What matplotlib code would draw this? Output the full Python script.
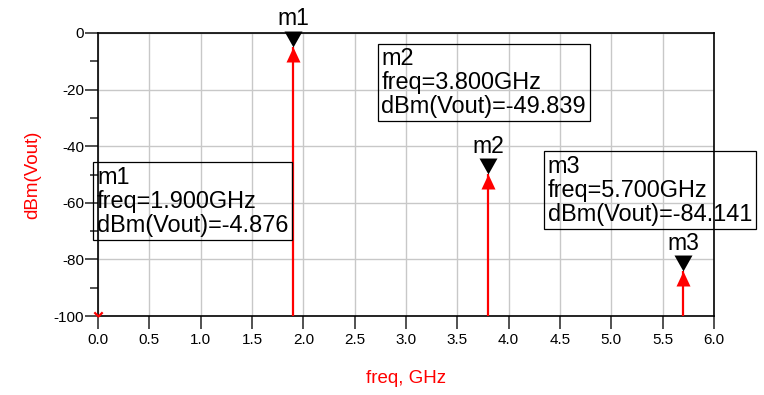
import numpy as np
import matplotlib
matplotlib.use("Agg")
import matplotlib.pyplot as plt
from matplotlib.path import Path

plt.rcParams['font.family'] = ['Liberation Sans', 'DejaVu Sans']
plt.rcParams['axes.unicode_minus'] = False

# harmonic spectrum
freq_ghz = [1.9, 3.8, 5.7]
dbm_vout = [-4.876, -49.839, -84.141]
marker_names = ['m1', 'm2', 'm3']
# the trace sample at DC sits at the bottom of the scale
dc_freq = 0.0
dc_level = -100

# where each marker readout box sits (data coords, top-left of text)
box_pos = [(-0.01, -47.0), (2.76, -5.0), (4.38, -43.1)]

x_ticks = np.arange(0, 6.01, 0.5)
y_ticks = [0, -20, -40, -60, -80, -100]
y_minor = [-10, -30, -50, -70, -90]

fig = plt.figure(figsize=(7.64, 3.95), dpi=100)
ax = fig.add_axes([98 / 764, 79 / 395, 616 / 764, 283 / 395])

ax.set_xlim(0, 6)
ax.set_ylim(-100, 0)
ax.set_xticks(x_ticks)
ax.set_xticklabels([f"{v:.1f}" for v in x_ticks])
ax.set_yticks(y_ticks)
ax.set_yticks(y_minor, minor=True)
ax.grid(True, which='major', color='#c8c8c8', linewidth=1.0)
ax.set_axisbelow(True)
for s in ax.spines.values():
    s.set_color('black')
    s.set_linewidth(1.2)
ax.tick_params(axis='both', which='major', direction='out', length=9.5, width=1.2,
               labelsize=11, pad=3, color='#333333')
ax.tick_params(axis='y', which='major', pad=0.5)
ax.tick_params(axis='y', which='minor', direction='out', length=6, width=1.2, color='#333333')

ax.set_xlabel('freq, GHz', color='red', fontsize=13.5, labelpad=16)
ax.set_ylabel('dBm(Vout)', color='red', fontsize=13.5, labelpad=9)

# spectral lines
ax.vlines(freq_ghz, -100, dbm_vout, color='red', linewidth=1.6, zorder=3)
up_head = [(-7, -15), (7, -15), (0, 0)]
down_tri = [(-9, 16), (9, 16), (0, 0)]
ax.plot(freq_ghz, dbm_vout, linestyle='none', marker=up_head, markersize=21.6,
        color='red', markeredgewidth=0, zorder=4, clip_on=False)
ax.plot(freq_ghz, dbm_vout, linestyle='none', marker=down_tri, markersize=23,
        color='black', markeredgewidth=0, zorder=5, clip_on=False)

vmark = Path([(-1, 1), (0, 0), (1, 1)], [Path.MOVETO, Path.LINETO, Path.LINETO])
ax.plot([dc_freq], [dc_level], linestyle='none', marker=vmark, markersize=6,
        markeredgecolor='red', markerfacecolor='none', markeredgewidth=1.6,
        clip_on=False, zorder=5)

for name, f, v, (bx, by) in zip(marker_names, freq_ghz, dbm_vout, box_pos):
    ax.annotate(name, (f, v), xytext=(0, 15.5), textcoords='offset points',
                ha='center', va='baseline', fontsize=16.5, annotation_clip=False)
    txt = f"{name}\nfreq={f:.3f}GHz\ndBm(Vout)={v:.3f}"
    ax.text(bx, by, txt, ha='left', va='top', fontsize=16.9, linespacing=1.05,
            zorder=6, clip_on=False,
            bbox=dict(boxstyle='square,pad=0.15', facecolor='none',
                      edgecolor='black', linewidth=0.9))

fig.savefig('out.png', dpi=100)
